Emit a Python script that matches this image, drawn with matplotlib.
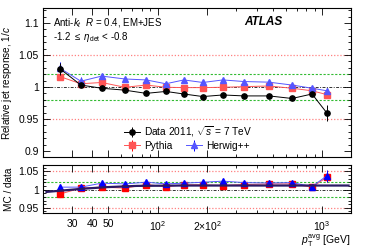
import matplotlib
matplotlib.use("Agg")
import matplotlib.pyplot as plt
from matplotlib.ticker import FixedLocator, FixedFormatter, MultipleLocator, NullFormatter
import numpy as np

plt.rcParams["font.family"] = ["Liberation Sans", "DejaVu Sans"]
plt.rcParams["mathtext.fontset"] = "custom"
plt.rcParams["mathtext.rm"] = "Liberation Sans"
plt.rcParams["mathtext.it"] = "Liberation Sans:italic"
plt.rcParams["mathtext.bf"] = "Liberation Sans:bold"

# Data
pt = [25.5, 34, 45.5, 63, 85, 112, 144, 188, 249, 334, 475, 656, 869, 1072]

data = [1.028, 1.003, 0.998, 0.995, 0.990, 0.993, 0.989, 0.985, 0.9875, 0.986, 0.986, 0.982, 0.989, 0.959]
data_err = [0.009, 0.003, 0.002, 0.002, 0.002, 0.002, 0.002, 0.002, 0.002, 0.002, 0.002, 0.002, 0.003, 0.013]
pythia = [1.016, 1.005, 1.007, 0.9995, 1.003, 0.9995, 0.999, 0.999, 0.9995, 1.0005, 1.0015, 0.998, 0.994, 0.988]
pythia_err = [0.004, 0.002, 0.002, 0.001, 0.001, 0.001, 0.001, 0.001, 0.001, 0.001, 0.001, 0.001, 0.002, 0.003]
herwig = [1.029, 1.009, 1.017, 1.0125, 1.011, 1.005, 1.011, 1.007, 1.011, 1.0085, 1.0075, 1.003, 0.998, 0.994]
herwig_err = [0.010, 0.006, 0.003, 0.002, 0.002, 0.002, 0.002, 0.002, 0.002, 0.002, 0.002, 0.002, 0.003, 0.004]

ratio_pythia = [0.988, 1.004, 1.0065, 1.004, 1.0137, 1.008, 1.013, 1.013, 1.011, 1.0137, 1.0155, 1.0155, 1.0066, 1.034]
ratio_pythia_err = [0.005, 0.003, 0.002, 0.002, 0.002, 0.002, 0.002, 0.002, 0.002, 0.002, 0.002, 0.002, 0.003, 0.012]
ratio_herwig = [1.0066, 1.0066, 1.0175, 1.0155, 1.020, 1.0155, 1.0175, 1.020, 1.023, 1.019, 1.018, 1.019, 1.008, 1.038]
ratio_herwig_err = [0.006, 0.004, 0.002, 0.002, 0.002, 0.002, 0.002, 0.002, 0.002, 0.002, 0.002, 0.002, 0.003, 0.016]

fit_pt = [21, 34.4, 48.9, 74.5, 140, 1450]
fit_val = [0.9935, 1.002, 1.0066, 1.010, 1.011, 1.011]

xticks = [30, 40, 50, 100, 200, 1000]
xticklabels = ["30", "40", "50", "$10^2$", r"$2{\times}10^2$", "$10^3$"]

fig = plt.figure(figsize=(3.66, 2.48), dpi=100)
ax = fig.add_axes([0.1175, 0.3657, 0.8415, 0.6008])
axr = fig.add_axes([0.1175, 0.1399, 0.8415, 0.196])

def ref_lines(a):
    a.axhline(1.05, color="#ff8080", ls=(0, (1, 1.5)), lw=0.9, zorder=1)
    a.axhline(0.95, color="#ff8080", ls=(0, (1, 1.5)), lw=0.9, zorder=1)
    a.axhline(1.02, color="#33bb33", ls=(0, (2, 1.5)), lw=0.8, zorder=1)
    a.axhline(0.98, color="#33bb33", ls=(0, (2, 1.5)), lw=0.8, zorder=1)
    a.axhline(1.0, color="#333333", ls=(0, (3, 1.5, 1, 1.5)), lw=0.7, zorder=1)

def style_axis(a):
    a.set_xscale("log")
    a.set_xlim(20, 1500)
    a.xaxis.set_major_locator(FixedLocator(xticks))
    minors = [v for d in (10, 100, 1000) for v in np.arange(2, 10) * d if 20 <= v <= 1500 and v not in xticks]
    a.xaxis.set_minor_locator(FixedLocator(minors))
    a.xaxis.set_minor_formatter(NullFormatter())
    a.tick_params(which="both", direction="in", top=True, right=True, labelsize=7.5, pad=3)
    a.tick_params(which="major", length=5, width=0.6)
    a.tick_params(which="minor", length=2.5, width=0.6)
    for s in a.spines.values():
        s.set_linewidth(0.8)

# upper panel
ref_lines(ax)
style_axis(ax)
ax.xaxis.set_major_formatter(NullFormatter())
ax.set_ylim(0.89, 1.123)
ax.yaxis.set_major_locator(FixedLocator([0.9, 0.95, 1.0, 1.05, 1.1]))
ax.yaxis.set_major_formatter(FixedFormatter(["0.9", "0.95", "1", "1.05", "1.1"]))
ax.yaxis.set_minor_locator(MultipleLocator(0.01))

h_data = ax.errorbar(pt, data, yerr=data_err, color="black", marker="o", ms=3.8, lw=0.7,
                     elinewidth=0.7, capsize=0, zorder=4)
h_py = ax.errorbar(pt, pythia, yerr=pythia_err, color="#ff0000", marker="s", ms=4, lw=0.7,
                   elinewidth=0.7, capsize=0, zorder=3)
h_hw = ax.errorbar(pt, herwig, yerr=herwig_err, color="#0000ff", marker="^", ms=4, lw=0.7,
                   elinewidth=0.7, capsize=0, zorder=3)
for h, c in ((h_py, "#ff5555"), (h_hw, "#5555ff")):
    h.lines[0].set_color(c)
    h.lines[0].set_markerfacecolor(h.lines[0].get_markeredgecolor())

ax.set_ylabel("Relative jet response, 1/$c$", fontsize=7.2)
ax.yaxis.set_label_coords(-0.093, 0.5)

ax.text(0.033, 0.9, "Anti-$k_t$  $R$ = 0.4, EM+JES", transform=ax.transAxes, fontsize=7, va="center")
ax.text(0.033, 0.805, r"-1.2 $\leq$ $\eta_{\rm det}$ < -0.8", transform=ax.transAxes, fontsize=7, va="center")
ax.text(0.652, 0.905, "ATLAS", transform=ax.transAxes, fontsize=8.5, fontweight="bold",
        fontstyle="italic", va="center")

leg1 = ax.legend([h_data], [r"Data 2011, $\sqrt{s}$ = 7 TeV"], loc="center left",
                 bbox_to_anchor=(0.263, 0.17), frameon=False, fontsize=7.3,
                 handlelength=1.6, handletextpad=0.4, borderpad=0, borderaxespad=0)
ax.add_artist(leg1)
ax.legend([h_py, h_hw], ["Pythia", "Herwig++"], loc="center left", ncol=2,
          bbox_to_anchor=(0.263, 0.076), frameon=False, fontsize=7.3,
          handlelength=1.6, handletextpad=0.4, columnspacing=1.3, borderpad=0, borderaxespad=0)

# lower panel
ref_lines(axr)
style_axis(axr)
axr.xaxis.set_major_formatter(FixedFormatter(xticklabels))
axr.set_ylim(0.935, 1.068)
axr.yaxis.set_major_locator(FixedLocator([0.95, 1.0, 1.05]))
axr.yaxis.set_major_formatter(FixedFormatter(["0.95", "1", "1.05"]))
axr.yaxis.set_minor_locator(MultipleLocator(0.01))
axr.tick_params(axis="x", which="major", pad=4)

axr.plot(fit_pt, fit_val, color="#2b1a66", lw=1.6, zorder=5)
r_py = axr.errorbar(pt, ratio_pythia, yerr=ratio_pythia_err, color="#ff0000", marker="s", ms=4,
                    lw=0.7, elinewidth=0.7, capsize=0, zorder=3)
r_hw = axr.errorbar(pt, ratio_herwig, yerr=ratio_herwig_err, color="#0000ff", marker="^", ms=4,
                    lw=0.7, elinewidth=0.7, capsize=0, zorder=4)
r_py.lines[0].set_color("#ff5555")
r_py.lines[0].set_markerfacecolor("#ff0000")
r_py.lines[0].set_markeredgecolor("#ff0000")
r_hw.lines[0].set_color("#5555ff")
r_hw.lines[0].set_markerfacecolor("#0000ff")
r_hw.lines[0].set_markeredgecolor("#0000ff")

axr.set_ylabel("MC / data", fontsize=7.2)
axr.yaxis.set_label_coords(-0.093, 0.5)
fig.text(350 / 366, 1 - 240.5 / 248, r"$p_{\rm T}^{\rm avg}$ [GeV]", fontsize=7.5, ha="right", va="center")

fig.savefig("out.png", dpi=100)
